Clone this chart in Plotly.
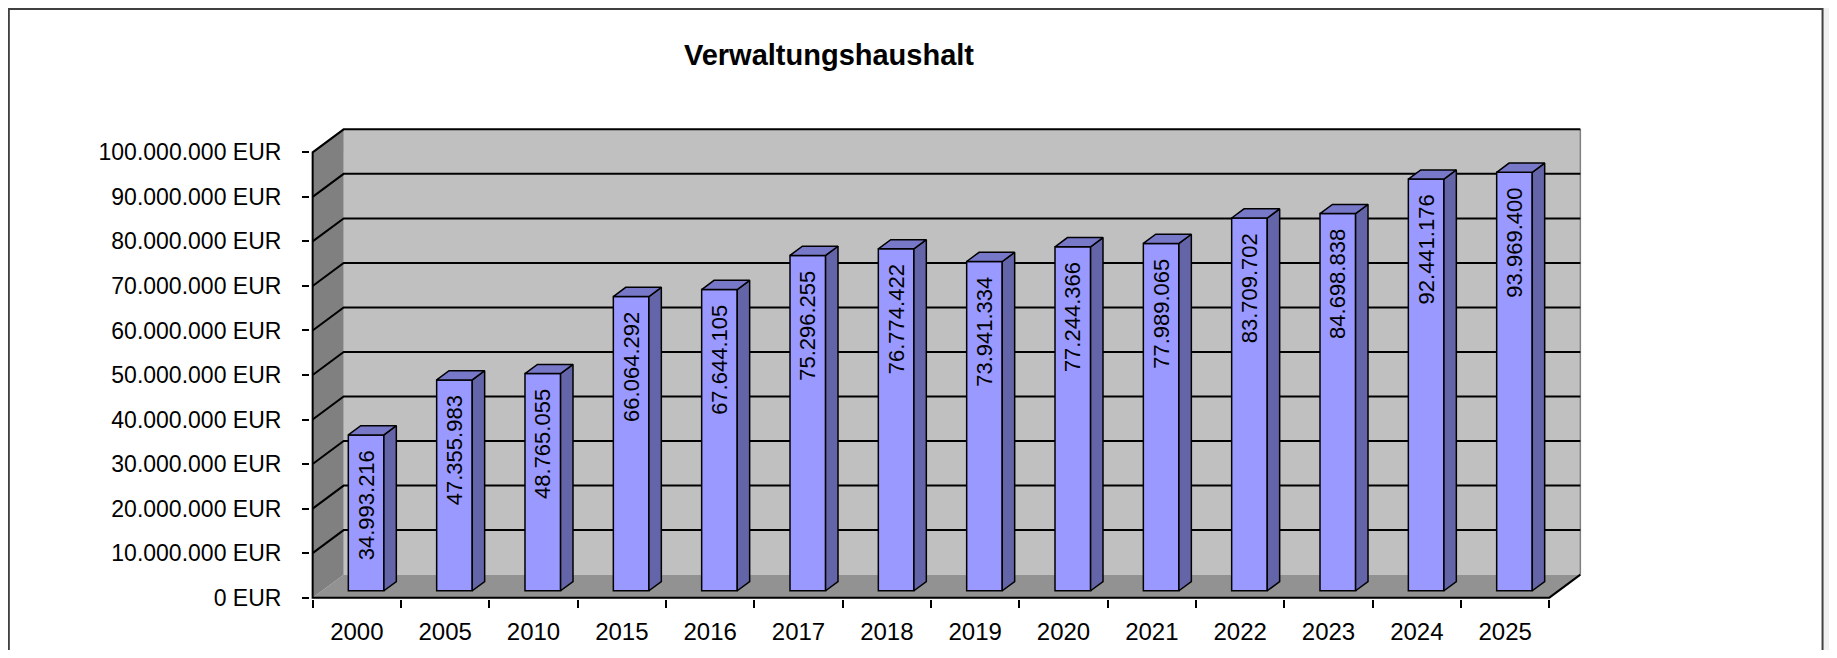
import plotly.graph_objects as go

# data
jahre = ["2000", "2005", "2010", "2015", "2016", "2017", "2018",
         "2019", "2020", "2021", "2022", "2023", "2024", "2025"]
betraege = [34993216, 47355983, 48765055, 66064292, 67644105, 75296255, 76774422,
            73941334, 77244366, 77989065, 83709702, 84698838, 92441176, 93969400]
y_ticks = [0, 10000000, 20000000, 30000000, 40000000, 50000000,
           60000000, 70000000, 80000000, 90000000, 100000000]
y_labels = [f"{v:,} EUR".replace(",", ".") for v in y_ticks]

FONT = "Liberation Sans, Arial, sans-serif"

# page has an 8px body margin, so figure px = screen px - OFF
OFF = 8
W, H = 1837 - 2 * OFF, 658 - 2 * OFF

# fake 3d geometry (in axis units)
PX_X = 88.3          # px per category
PX_Y = 4.45e-6       # px per EUR
DDX = 31 / PX_X      # depth offset x
DDY = 23 / PX_Y      # depth offset y
F0, F1 = 0.3, 0.7    # bar depth start / end
BW = 0.403           # bar width
YMAX = y_ticks[-1]
n = len(jahre)
xl, xr = -0.5, n - 0.5

x_range = [xl - 0.03, xr + DDX + 0.03]
y_range = [-0.3e6, YMAX + DDY + 0.3e6]
plot_left = 312.7 - OFF - (xl - x_range[0]) * PX_X
plot_w = (x_range[1] - x_range[0]) * PX_X
plot_bottom = 597.3 - OFF + (0 - y_range[0]) * PX_Y
plot_h = (y_range[1] - y_range[0]) * PX_Y


def path(pts, close=True):
    s = "M " + " L ".join(f"{x},{y}" for x, y in pts)
    return s + (" Z" if close else "")


# outer frame of the chart
shapes = [dict(type="rect", xref="paper", yref="paper", layer="below",
               x0=(9 - OFF - plot_left) / plot_w, x1=(1822 - OFF - plot_left) / plot_w,
               y0=(plot_bottom - 700) / plot_h, y1=(plot_bottom - 1) / plot_h,
               fillcolor="white", line=dict(color="#404040", width=2))]


def add_shape(pts, fill=None, color=None, width=0, close=True):
    shapes.append(dict(type="path", xref="x", yref="y", layer="below",
                       path=path(pts, close),
                       fillcolor=fill if fill else "rgba(0,0,0,0)",
                       line=dict(color=color or "rgba(0,0,0,0)", width=width)))


# back wall, floor, left wall
add_shape([(xl + DDX, DDY), (xr + DDX, DDY), (xr + DDX, YMAX + DDY), (xl + DDX, YMAX + DDY)], "#C0C0C0")
add_shape([(xl, 0), (xr, 0), (xr + DDX, DDY), (xl + DDX, DDY)], "#929292")
add_shape([(xl, 0), (xl, YMAX), (xl + DDX, YMAX + DDY), (xl + DDX, DDY)], "#808080")
add_shape([(xr + DDX, DDY), (xr + DDX, YMAX + DDY)], None, "#808080", 1.5, close=False)

# gridlines
for v in y_ticks[1:-1]:
    add_shape([(xl, v), (xl + DDX, v + DDY), (xr + DDX, v + DDY)], None, "black", 2, close=False)

# outlines
add_shape([(xr + DDX, DDY), (xr, 0), (xl, 0), (xl, YMAX), (xl + DDX, YMAX + DDY), (xr + DDX, YMAX + DDY)],
          None, "black", 2, close=False)

fig = go.Figure()

# bar fronts
fig.add_trace(go.Bar(
    x=[i + F0 * DDX for i in range(n)],
    y=betraege,
    base=[F0 * DDY] * n,
    width=BW,
    marker=dict(color="#9999FF", line=dict(color="black", width=1.5)),
    text=[f"{v:,}".replace(",", ".") + "\u00a0\u00a0" for v in betraege],
    textposition="inside",
    insidetextanchor="end",
    textangle=-90,
    constraintext="none",
    textfont=dict(family=FONT, size=22, color="black"),
    hoverinfo="skip",
    showlegend=False,
))

# bar sides and tops
sx, sy, tx, ty = [], [], [], []
for i, v in enumerate(betraege):
    xa = i - BW / 2 + F0 * DDX
    xb = i + BW / 2 + F0 * DDX
    b0, b1 = F0 * DDY, F1 * DDY
    d = (F1 - F0) * DDX
    sx += [xb, xb + d, xb + d, xb, xb, None]
    sy += [b0, b1, v + b1, v + b0, b0, None]
    tx += [xa, xb, xb + d, xa + d, xa, None]
    ty += [v + b0, v + b0, v + b1, v + b1, v + b0, None]

fig.add_trace(go.Scatter(x=sx, y=sy, mode="lines", fill="toself", fillcolor="#6464A8",
                         line=dict(color="black", width=1.5), hoverinfo="skip", showlegend=False))
fig.add_trace(go.Scatter(x=tx, y=ty, mode="lines", fill="toself", fillcolor="#7878C8",
                         line=dict(color="black", width=1.5), hoverinfo="skip", showlegend=False))

fig.update_layout(
    width=W,
    height=H,
    margin=dict(l=plot_left, r=W - plot_left - plot_w,
                t=plot_bottom - plot_h, b=H - plot_bottom, autoexpand=False),
    paper_bgcolor="#F0F0F0",
    plot_bgcolor="rgba(0,0,0,0)",
    font=dict(family=FONT, size=23, color="black"),
    title=dict(text="<b>Verwaltungshaushalt</b>", x=(829 - OFF) / W, y=1 - (55 - OFF) / H,
               xref="container", yref="container", xanchor="center", yanchor="middle",
               font=dict(family=FONT, size=29, color="black")),
    xaxis=dict(range=x_range, tickvals=list(range(n)), ticktext=jahre, ticks="",
               showgrid=False, zeroline=False, showline=False, ticklabelstandoff=16,
               tickfont=dict(size=24),
               minor=dict(tick0=-0.5, dtick=1, ticks="outside", ticklen=8,
                          tickcolor="black", tickwidth=1.5, showgrid=False)),
    yaxis=dict(range=y_range, tickvals=y_ticks, ticktext=y_labels,
               ticks="outside", ticklen=7, tickcolor="black", tickwidth=1.5,
               showgrid=False, zeroline=False, showline=False, ticklabelstandoff=16),
    shapes=shapes,
)

fig.write_html("out.html")
